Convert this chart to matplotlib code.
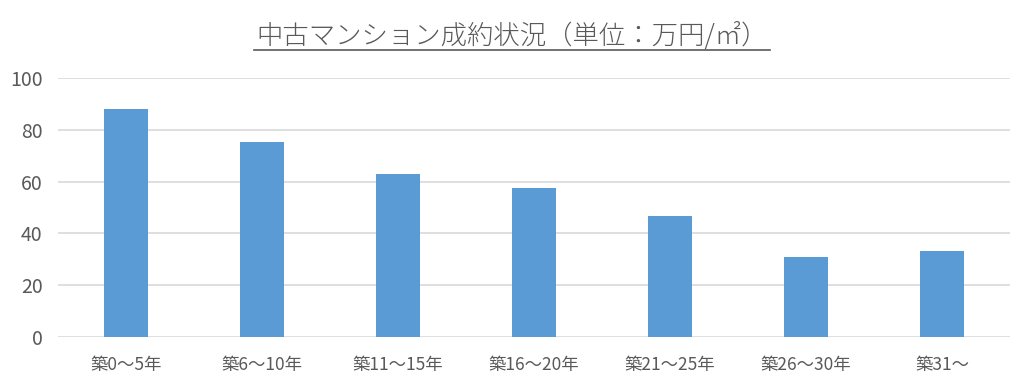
import matplotlib
matplotlib.use("Agg")
import matplotlib.pyplot as plt
from matplotlib.lines import Line2D

plt.rcParams['font.family'] = ['Noto Sans CJK JP', 'DejaVu Sans']

categories = ["築0～5年", "築6～10年", "築11～15年", "築16～20年", "築21～25年", "築26～30年", "築31～"]
values = [88.0, 75.3, 62.9, 57.5, 46.7, 30.9, 33.2]
yticks = [0, 20, 40, 60, 80, 100]
title = "中古マンション成約状況（単位：万円/㎡）"

fig = plt.figure(figsize=(10.24, 3.87), dpi=100)
ax = fig.add_axes([58/1024, 1-337/387, (1010-58)/1024, (337-78)/387])

x = list(range(len(categories)))
ax.bar(x, values, width=0.32, color="#5B9BD5", zorder=3)
ax.set_xlim(-0.5, len(categories)-0.5)
ax.set_ylim(0, 100)
ax.set_yticks(yticks)
ax.set_xticks(x)
ax.set_xticklabels(categories)
ax.grid(axis='y', color="#D9D9D9", linewidth=1.2, zorder=0)
for s in ax.spines.values():
    s.set_visible(False)
ax.tick_params(axis='both', length=0, labelcolor="#595959")
ax.tick_params(axis='x', pad=14, labelsize=12.5)
ax.tick_params(axis='y', pad=11, labelsize=14)

t = fig.text(0.5, 1-35/387, title, ha='center', va='center', fontsize=19,
             color="#595959", fontweight='light')
fig.canvas.draw()
bb = t.get_window_extent()
ylin = 1-50/387
fig.add_artist(Line2D([bb.x0/1024 - 0.002, bb.x1/1024 + 0.002], [ylin, ylin], transform=fig.transFigure,
                      color="#595959", linewidth=1.2))

fig.savefig("out.png", dpi=100)
